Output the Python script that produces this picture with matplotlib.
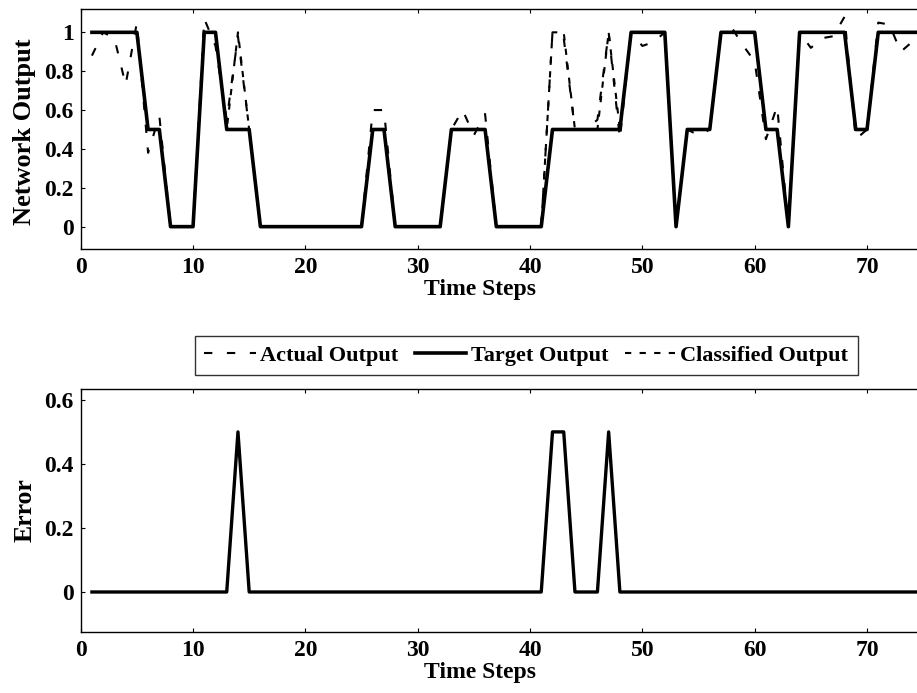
import matplotlib.pyplot as plt

# time steps 1..75 (the original figure is cut off on the right)
steps = list(range(1, 76))

target = [1, 1, 1, 1, 1, 0.5, 0.5, 0, 0, 0,
          1, 1, 0.5, 0.5, 0.5, 0, 0, 0, 0, 0,
          0, 0, 0, 0, 0, 0.5, 0.5, 0, 0, 0,
          0, 0, 0.5, 0.5, 0.5, 0.5, 0, 0, 0, 0,
          0, 0.5, 0.5, 0.5, 0.5, 0.5, 0.5, 0.5, 1, 1,
          1, 1, 0, 0.5, 0.5, 0.5, 1, 1, 1, 1,
          0.5, 0.5, 0, 1, 1, 1, 1, 1, 0.5, 0.5,
          1, 1, 1, 1, 1]

actual = [0.88, 1.0, 0.97, 0.73, 1.05, 0.38, 0.57, 0, 0, 0,
          1.07, 0.93, 0.55, 0.98, 0.5, 0, 0, 0, 0, 0,
          0, 0, 0, 0, 0, 0.6, 0.6, 0, 0, 0,
          0, 0, 0.5, 0.6, 0.47, 0.58, 0, 0, 0, 0,
          0, 1.0, 0.97, 0.5, 0.5, 0.55, 1.0, 0.45, 1.0, 0.93,
          0.95, 1.0, 0, 0.5, 0.47, 0.5, 1.0, 1.02, 0.93, 0.85,
          0.45, 0.62, 0, 1.0, 0.92, 0.97, 0.98, 1.08, 0.45, 0.5,
          1.05, 1.04, 0.9, 0.95, 1.0]

classified = [1, 1, 1, 1, 1, 0.5, 0.5, 0, 0, 0,
              1, 1, 0.5, 1, 0.5, 0, 0, 0, 0, 0,
              0, 0, 0, 0, 0, 0.5, 0.5, 0, 0, 0,
              0, 0, 0.5, 0.5, 0.5, 0.5, 0, 0, 0, 0,
              0, 1, 1, 0.5, 0.5, 0.5, 1, 0.5, 1, 1,
              1, 1, 0, 0.5, 0.5, 0.5, 1, 1, 1, 1,
              0.5, 0.5, 0, 1, 1, 1, 1, 1, 0.5, 0.5,
              1, 1, 1, 1, 1]

error = [0, 0, 0, 0, 0, 0, 0, 0, 0, 0,
         0, 0, 0, 0.5, 0, 0, 0, 0, 0, 0,
         0, 0, 0, 0, 0, 0, 0, 0, 0, 0,
         0, 0, 0, 0, 0, 0, 0, 0, 0, 0,
         0, 0.5, 0.5, 0, 0, 0, 0.5, 0, 0, 0,
         0, 0, 0, 0, 0, 0, 0, 0, 0, 0,
         0, 0, 0, 0, 0, 0, 0, 0, 0, 0,
         0, 0, 0, 0, 0]

xticks = [0, 10, 20, 30, 40, 50, 60, 70]
top_yticks = [0, 0.2, 0.4, 0.6, 0.8, 1]
top_ylabels = ['0', '0.2', '0.4', '0.6', '0.8', '1']
bot_yticks = [0, 0.2, 0.4, 0.6]
bot_ylabels = ['0', '0.2', '0.4', '0.6']

plt.rcParams['font.family'] = ['Liberation Serif', 'DejaVu Serif']
plt.rcParams['font.weight'] = 'bold'
plt.rcParams['font.size'] = 16

fig = plt.figure(figsize=(9.17, 6.93), dpi=100)

ax1 = fig.add_axes([0.088, 0.6407, 0.912, 0.3463])
ax2 = fig.add_axes([0.088, 0.088, 0.912, 0.3507])

l_act, = ax1.plot(steps, actual, color='black', lw=1.5, ls=(0, (4, 7)),
                  label='Actual Output')
l_tgt, = ax1.plot(steps, target, color='black', lw=2.6, label='Target Output')
l_cls, = ax1.plot(steps, classified, color='black', lw=1.5, ls=(0, (3, 4)),
                  label='Classified Output')

ax2.plot(steps, error, color='black', lw=2.4)

for ax in (ax1, ax2):
    ax.set_xlim(0, 74.45)
    ax.set_xticks(xticks)
    ax.tick_params(axis='both', direction='in', length=3, top=True, right=False,
                   labelsize=17)
    ax.tick_params(axis='x', pad=6)
    ax.tick_params(axis='y', pad=5)
    ax.spines['right'].set_visible(False)
    for s in ('left', 'top', 'bottom'):
        ax.spines[s].set_linewidth(1.0)
    ax.set_xlabel('Time Steps', fontsize=17, fontweight='bold', labelpad=0)
    ax.xaxis.set_label_coords(0.478, -0.125)

ax1.set_ylim(-0.115, 1.12)
ax1.set_yticks(top_yticks)
ax1.set_yticklabels(top_ylabels)
ax1.set_ylabel('Network Output', fontsize=19, fontweight='bold')
ax1.yaxis.set_label_coords(-0.053, 0.49)

ax2.set_ylim(-0.125, 0.634)
ax2.set_yticks(bot_yticks)
ax2.set_yticklabels(bot_ylabels)
ax2.set_ylabel('Error', fontsize=18.5, fontweight='bold')
ax2.yaxis.set_label_coords(-0.053, 0.5)

leg = fig.legend(handles=[l_act, l_tgt, l_cls], loc='center',
                 bbox_to_anchor=(0.574, 0.487), ncol=3, fontsize=16,
                 frameon=True, fancybox=False, edgecolor='black',
                 handlelength=2.3, handletextpad=0.2, columnspacing=0.75,
                 borderpad=0.42)
leg.get_frame().set_linewidth(1.0)

fig.savefig('out.png', dpi=100)
